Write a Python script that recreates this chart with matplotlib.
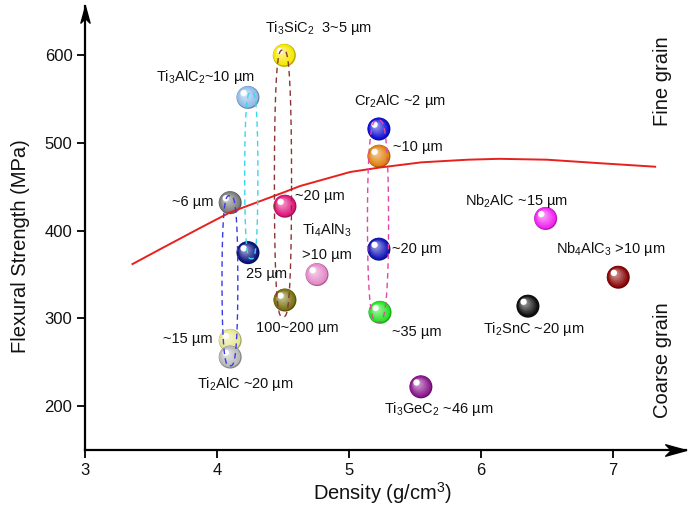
import matplotlib
matplotlib.use("Agg")
import matplotlib.pyplot as plt
import matplotlib.colors as mcolors
import numpy as np
from matplotlib.transforms import ScaledTranslation
from matplotlib.patches import PathPatch
from matplotlib.path import Path

plt.rcParams['font.family'] = ['Liberation Sans', 'DejaVu Sans']
plt.rcParams['mathtext.fontset'] = 'custom'
plt.rcParams['mathtext.rm'] = 'Liberation Sans'
plt.rcParams['mathtext.it'] = 'Liberation Sans:italic'
plt.rcParams['mathtext.bf'] = 'Liberation Sans:bold'

# ---------------- data ----------------
labels = [r'Ti$_3$SiC$_2$  3~5 µm', r'Ti$_3$AlC$_2$~10 µm', '~6 µm', '~20 µm', '25 µm',
          r'Ti$_4$AlN$_3$', '100~200 µm', '~15 µm', r'Ti$_2$AlC ~20 µm',
          r'Cr$_2$AlC ~2 µm', '~10 µm', '~20 µm', '~35 µm',
          r'Ti$_3$GeC$_2$ ~46 µm', r'Ti$_2$SnC ~20 µm', r'Nb$_2$AlC ~15 µm', r'Nb$_4$AlC$_3$ >10 µm']
density = [4.51, 4.235, 4.10, 4.515, 4.235, 4.758, 4.515, 4.10, 4.10,
           5.227, 5.227, 5.227, 5.235, 5.545, 6.356, 6.49, 7.04]
strength = [600, 552, 432, 428, 375, 350, 321, 275, 256,
            516, 485, 379, 307, 222, 314, 414, 347]
colors = ['#f5e800', '#8fbbe8', '#7c7c7c', '#e0157c', '#0c1680', '#e48ac8', '#7a7212',
          '#e6e690', '#b9b9b9', '#1212d6', '#e2820e', '#1218b8', '#22e622',
          '#8c1a8e', '#101010', '#f224f0', '#8c0808']

# fitted trend curve
curve_x = [3.36, 3.57, 3.87, 4.10, 4.51, 4.63, 5.01, 5.23, 5.55, 5.90, 6.14, 6.50, 6.90, 7.32]
curve_y = [362, 379, 403, 421, 444, 451, 467, 472, 478, 481, 482, 481, 477, 473]

# dashed grouping loops: centre density, low/high strength, width
loop_x = [4.098, 4.26, 4.50, 5.22]
loop_lo = [246, 368, 302, 296]
loop_hi = [440, 558, 606, 526]
loop_w = [0.12, 0.10, 0.13, 0.16]
loop_c = ['#3a3ae6', '#3ad6ea', '#8c3434', '#e048a8']

# label placement: (ha, dx px, dy px)
lab_pos = [('left', -19, 27), ('center', -43, 20), ('right', -17, 1), ('left', 10, 10),
           ('center', 19, -21), ('center', 10, 44), ('center', 12, -28), ('right', -18, 1),
           ('center', 15, -27), ('center', 21, 28), ('left', 14, 9), ('left', 13, 0),
           ('left', 12, -20), ('center', 18, -22), ('center', 6, -23), ('center', -29, 17),
           ('center', -8, 28)]

# ---------------- figure ----------------
fig = plt.figure(figsize=(6.96, 5.09), dpi=100)
ax = fig.add_axes([0.1221, 0.1159, 0.8629, 0.8719])
ax.set_xlim(3, 7.55)
ax.set_ylim(150, 656)
for s in ['top', 'right']:
    ax.spines[s].set_visible(False)
for s in ['left', 'bottom']:
    ax.spines[s].set_linewidth(1.6)
ax.set_xticks([3, 4, 5, 6, 7])
ax.set_yticks([200, 300, 400, 500, 600])
ax.tick_params(direction='out', length=6, width=1.4, labelsize=12, pad=3, colors='#111111')

# arrow heads
arr_r = Path([(0, 0), (-2, 0.55), (-1.45, 0), (-2, -0.55), (0, 0)],
             [Path.MOVETO, Path.LINETO, Path.LINETO, Path.LINETO, Path.CLOSEPOLY])
arr_u = Path([(0, 0), (0.55, -2), (0, -1.45), (-0.55, -2), (0, 0)],
             [Path.MOVETO, Path.LINETO, Path.LINETO, Path.LINETO, Path.CLOSEPOLY])
ax.plot([1], [0], marker=arr_r, ms=30, color='k', transform=ax.transAxes, clip_on=False, zorder=10)
ax.plot([0], [1], marker=arr_u, ms=24, color='k', transform=ax.transAxes, clip_on=False, zorder=10)

# balls (shaded spheres)
def offset(dx, dy):
    return ax.transData + ScaledTranslation(dx / 72, dy / 72, fig.dpi_scale_trans)

R = 11.5 * 0.72  # ball radius in points
base_s = (2 * R) ** 2
for x, y, c in zip(density, strength, colors):
    rgb = np.array(mcolors.to_rgb(c))
    dark = rgb * 0.72
    ax.scatter([x], [y], s=base_s, color=dark, edgecolors='none', zorder=3)
    ax.scatter([x], [y], s=(2 * R * 0.93) ** 2, color=rgb, edgecolors='none', zorder=3,
               transform=offset(-0.35, 0.35))
    n = 7
    for k in range(1, n + 1):
        f = 1 - k / (n + 1.5)
        mix = (1 - f) * 0.75
        col = rgb * (1 - mix) + mix
        sh = (1 - f) * R * 0.42
        ax.scatter([x], [y], s=(2 * R * f * 0.9) ** 2, color=col, edgecolors='none', zorder=3,
                   transform=offset(-sh, sh))
    ax.scatter([x], [y], s=(R * 0.55) ** 2, color='white', edgecolors='none', zorder=3,
               transform=offset(-R * 0.38, R * 0.38))

# trend curve
ax.plot(curve_x, curve_y, color='#e8201e', lw=1.4, zorder=5)

# dashed loops (rounded, near-parallel sides)
t = np.linspace(0, 2 * np.pi, 200)
ct, st = np.cos(t), np.sin(t)
ux = np.sign(ct) * np.abs(ct) ** 0.6
uy = np.sign(st) * np.abs(st) ** 0.9
for x, lo, hi, w, c in zip(loop_x, loop_lo, loop_hi, loop_w, loop_c):
    px = x + ux * w / 2
    py = (lo + hi) / 2 + uy * (hi - lo) / 2
    ax.add_patch(PathPatch(Path(np.column_stack([px, py])), fill=False, edgecolor=c, lw=1.0,
                           linestyle=(0, (4, 3)), zorder=6))

# labels
for i, (txt, (ha, dx, dy)) in enumerate(zip(labels, lab_pos)):
    ax.annotate(txt, (density[i], strength[i]), xytext=(dx * 0.72, dy * 0.72),
                textcoords='offset points', ha=ha, va='center', fontsize=10.5, color='#111111',
                zorder=8)
# second line for Ti4AlN3
ax.annotate('>10 µm', (density[5], strength[5]), xytext=(10 * 0.72, 20 * 0.72),
            textcoords='offset points', ha='center', va='center', fontsize=10.5, color='#111111')

# axis titles and side notes
fig.text(382 / 696, 1 - 493 / 509, r'Density (g/cm$^3$)', ha='center', va='center', fontsize=14.5,
         color='#111111')
fig.text(21 / 696, 1 - 246 / 509, 'Flexural Strength (MPa)', ha='center', va='center',
         rotation=90, fontsize=14.5, color='#111111')
fig.text(663 / 696, 1 - 81 / 509, 'Fine grain', ha='center', va='center', rotation=90,
         fontsize=14.5, color='#111111')
fig.text(663 / 696, 1 - 360 / 509, 'Coarse grain', ha='center', va='center', rotation=90,
         fontsize=14.5, color='#111111')

fig.savefig('out.png', dpi=100)
